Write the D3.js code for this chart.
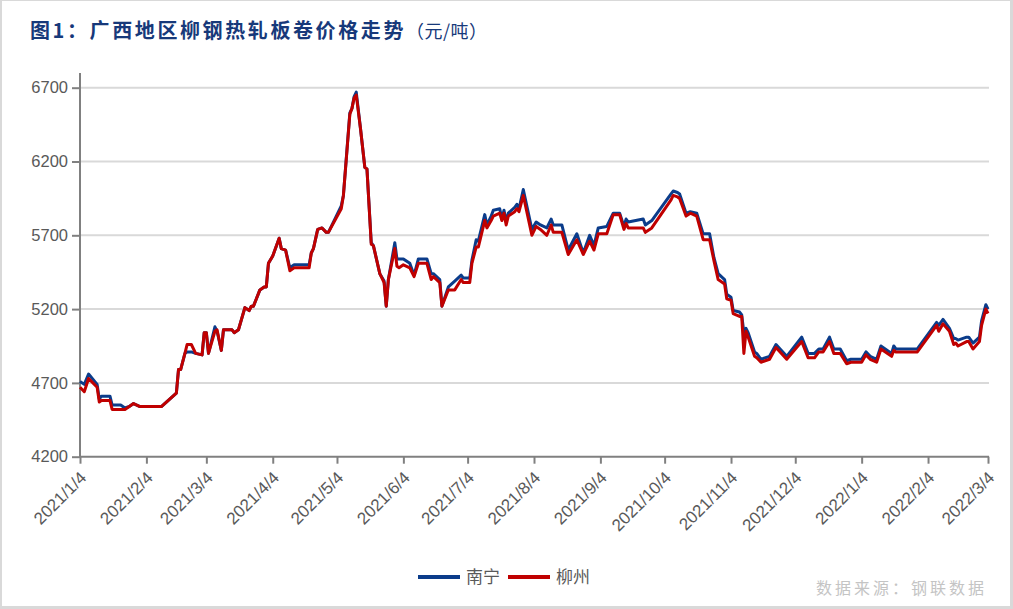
<!DOCTYPE html>
<html><head><meta charset="utf-8">
<script src="https://cdn.jsdelivr.net/npm/d3@7"></script>
<style>
html,body{margin:0;padding:0;background:#fff;}
svg{display:block;}
</style></head>
<body>
<svg id="c" width="1013" height="609"></svg>
<script>
// ---- data ----
const dates = ["2021-01-04","2021-01-06","2021-01-08","2021-01-12","2021-01-13","2021-01-14","2021-01-18","2021-01-19","2021-01-23","2021-01-25","2021-01-27","2021-01-29","2021-02-01","2021-02-11","2021-02-18","2021-02-19","2021-02-20","2021-02-22","2021-02-23","2021-02-25","2021-02-27","2021-03-02","2021-03-03","2021-03-04","2021-03-05","2021-03-08","2021-03-09","2021-03-11","2021-03-12","2021-03-16","2021-03-17","2021-03-19","2021-03-22","2021-03-24","2021-03-25","2021-03-26","2021-03-29","2021-03-31","2021-04-01","2021-04-02","2021-04-04","2021-04-07","2021-04-08","2021-04-10","2021-04-12","2021-04-14","2021-04-21","2021-04-22","2021-04-23","2021-04-25","2021-04-27","2021-04-29","2021-04-30","2021-05-06","2021-05-07","2021-05-10","2021-05-11","2021-05-12","2021-05-13","2021-05-15","2021-05-17","2021-05-18","2021-05-20","2021-05-21","2021-05-24","2021-05-26","2021-05-27","2021-05-28","2021-05-31","2021-06-01","2021-06-02","2021-06-04","2021-06-07","2021-06-09","2021-06-11","2021-06-15","2021-06-17","2021-06-18","2021-06-21","2021-06-22","2021-06-25","2021-06-28","2021-07-01","2021-07-02","2021-07-05","2021-07-06","2021-07-08","2021-07-09","2021-07-12","2021-07-13","2021-07-15","2021-07-16","2021-07-19","2021-07-20","2021-07-21","2021-07-22","2021-07-23","2021-07-26","2021-07-27","2021-07-28","2021-07-30","2021-08-03","2021-08-05","2021-08-07","2021-08-10","2021-08-12","2021-08-13","2021-08-17","2021-08-20","2021-08-24","2021-08-27","2021-08-30","2021-09-01","2021-09-03","2021-09-07","2021-09-10","2021-09-13","2021-09-15","2021-09-16","2021-09-17","2021-09-24","2021-09-25","2021-09-28","2021-10-07","2021-10-08","2021-10-10","2021-10-11","2021-10-14","2021-10-16","2021-10-19","2021-10-22","2021-10-25","2021-10-27","2021-10-29","2021-11-01","2021-11-02","2021-11-04","2021-11-05","2021-11-08","2021-11-09","2021-11-10","2021-11-11","2021-11-12","2021-11-15","2021-11-16","2021-11-18","2021-11-22","2021-11-25","2021-11-30","2021-12-07","2021-12-10","2021-12-13","2021-12-15","2021-12-17","2021-12-20","2021-12-22","2021-12-25","2021-12-28","2021-12-30","2022-01-04","2022-01-06","2022-01-08","2022-01-11","2022-01-13","2022-01-18","2022-01-19","2022-01-20","2022-01-30","2022-02-07","2022-02-08","2022-02-09","2022-02-11","2022-02-14","2022-02-16","2022-02-17","2022-02-18","2022-02-22","2022-02-23","2022-02-25","2022-02-28","2022-03-01","2022-03-03","2022-03-04"];
const nanning = [4710,4690,4760,4690,4590,4610,4610,4550,4550,4530,4540,4560,4540,4540,4630,4790,4790,4900,4910,4910,4900,4890,5040,5040,4900,5080,5050,4920,5060,5060,5040,5060,5210,5190,5220,5220,5330,5350,5350,5510,5560,5680,5610,5600,5480,5500,5500,5580,5610,5740,5750,5720,5720,5900,5970,6530,6560,6640,6670,6420,6160,6150,5650,5630,5440,5390,5220,5400,5650,5540,5540,5540,5510,5430,5540,5540,5440,5440,5400,5220,5350,5390,5430,5410,5410,5530,5670,5660,5840,5770,5830,5870,5880,5810,5870,5790,5850,5890,5910,5880,6010,5740,5790,5770,5750,5810,5770,5770,5600,5710,5580,5700,5630,5750,5760,5850,5850,5760,5810,5790,5810,5770,5800,5980,6000,5990,5980,5850,5860,5850,5710,5710,5550,5440,5400,5300,5280,5190,5180,5160,5040,5070,5040,4910,4900,4860,4880,4960,4880,5010,4900,4900,4930,4930,5010,4930,4930,4850,4860,4860,4910,4880,4860,4950,4900,4950,4930,4930,5090,5110,5090,5130,5070,5000,5000,4990,5010,5010,4970,5010,5120,5230,5200];
const liuzhou = [4670,4640,4730,4670,4570,4580,4580,4520,4520,4520,4540,4560,4540,4540,4630,4790,4790,4900,4960,4960,4900,4890,5040,5040,4900,5050,5060,4920,5060,5060,5040,5060,5210,5190,5220,5220,5330,5350,5350,5510,5560,5680,5610,5600,5460,5480,5480,5580,5610,5740,5750,5720,5720,5880,5970,6520,6560,6630,6650,6420,6160,6150,5640,5630,5440,5380,5220,5400,5610,5490,5480,5500,5480,5420,5510,5510,5400,5420,5380,5220,5330,5330,5400,5380,5380,5510,5620,5620,5800,5750,5800,5830,5850,5800,5850,5770,5830,5860,5880,5860,5970,5700,5760,5740,5700,5770,5720,5720,5570,5670,5570,5660,5600,5710,5710,5840,5840,5740,5780,5750,5750,5720,5750,5940,5970,5960,5950,5830,5850,5830,5670,5670,5530,5400,5370,5270,5260,5170,5150,5150,4900,5050,5010,4880,4870,4840,4860,4940,4860,4980,4870,4870,4910,4910,4980,4900,4900,4830,4840,4840,4890,4860,4840,4930,4880,4920,4910,4910,5070,5090,5050,5100,5050,4960,4970,4950,4980,4980,4930,4980,5090,5200,5170];
const seriesNames = ["南宁","柳州"];
const seriesColors = ["#0b3c8a","#c00000"];
const yTicks = [4200,4700,5200,5700,6200,6700];
const xTicks = ["2021-01-04","2021-02-04","2021-03-04","2021-04-04","2021-05-04","2021-06-04","2021-07-04","2021-08-04","2021-09-04","2021-10-04","2021-11-04","2021-12-04","2022-01-04","2022-02-04","2022-03-04"];
const title = "图1：广西地区柳钢热轧板卷价格走势";
const unit = "（元/吨）";
const source = "数据来源：钢联数据";

// ---- drawing ----
const svg = d3.select("#c");
const parse = d3.utcParse("%Y-%m-%d");
const fmt = d3.utcFormat("%Y/%-m/%-d");
const W = 1013, H = 609;

svg.append("rect").attr("width",W).attr("height",H).attr("fill","#d9d9d9");
svg.append("rect").attr("x",2).attr("y",1).attr("width",1008).attr("height",605).attr("fill","#fff");

const x = d3.scaleUtc().domain([parse(xTicks[0]), parse(xTicks[xTicks.length-1])]).range([80, 988]);
const y = d3.scaleLinear().domain([4200, 6700]).range([456.7, 87.7]);

// grid
svg.append("g").selectAll("line").data(yTicks.slice(1)).join("line")
  .attr("x1",80).attr("x2",989).attr("y1",d=>y(d)).attr("y2",d=>y(d))
  .attr("stroke","#d9d9d9").attr("stroke-width",2);

// y axis
const yAxis = svg.append("g").attr("transform","translate(80,0)")
  .call(d3.axisLeft(y).tickValues(yTicks).tickSize(8).tickPadding(4).tickFormat(d3.format("d")));
yAxis.select(".domain").remove();
yAxis.selectAll(".tick line").attr("stroke","#808080").attr("stroke-width",2);
yAxis.selectAll(".tick text").attr("fill","#595959").style("font-family","'Liberation Sans', Arial, sans-serif").style("font-size","16.5px");
svg.append("line").attr("x1",80).attr("x2",80).attr("y1",73).attr("y2",457.7)
  .attr("stroke","#808080").attr("stroke-width",2);

// x axis
const xAxis = svg.append("g").attr("transform","translate(0,456.7)")
  .call(d3.axisBottom(x).tickValues(xTicks.map(parse)).tickSize(7).tickSizeOuter(0).tickFormat(fmt));
xAxis.select(".domain").attr("stroke","#808080").attr("stroke-width",2).attr("d","M79,0H989");
xAxis.selectAll(".tick line").attr("stroke","#808080").attr("stroke-width",2);
xAxis.selectAll(".tick text")
  .attr("fill","#595959").style("font-family","'Liberation Sans', Arial, sans-serif").style("font-size","17px")
  .attr("text-anchor","end").attr("dy",null).attr("y",null)
  .attr("transform","translate(7,22) rotate(-45)");

// lines
const pts = [nanning, liuzhou].map(vals => dates.map((d,i)=>({d:parse(d), v:vals[i]})));
const line = d3.line().x(p=>x(p.d)).y(p=>y(p.v));
pts.forEach((p,i)=>{
  svg.append("path").datum(p).attr("d",line).attr("fill","none")
    .attr("stroke",seriesColors[i]).attr("stroke-width",3).attr("stroke-linejoin","round");
});

// title
const t = svg.append("text").attr("x",30).attr("y",38).attr("fill","#17397a")
  .style("font-family","'Noto Sans CJK SC', sans-serif");
t.append("tspan").text(title).style("font-size","20px").style("font-weight","bold").style("letter-spacing","2.6px");
t.append("tspan").text(unit).style("font-size","18px").style("letter-spacing","0.5px");

// legend
const lg = svg.append("g").style("font-family","'Noto Sans CJK SC', sans-serif").style("font-size","17px");
const legX = [418, 508];
seriesNames.forEach((n,i)=>{
  lg.append("line").attr("x1",legX[i]).attr("x2",legX[i]+42).attr("y1",577).attr("y2",577)
    .attr("stroke",seriesColors[i]).attr("stroke-width",4);
  lg.append("text").attr("x",legX[i]+48).attr("y",583).attr("fill","#595959").text(n);
});

// source
svg.append("text").attr("x",987).attr("y",594).attr("text-anchor","end")
  .attr("fill","#c4c4c4").style("font-family","'Noto Sans CJK SC', sans-serif")
  .style("font-size","16px").style("letter-spacing","3px").text(source);
</script>
</body></html>
